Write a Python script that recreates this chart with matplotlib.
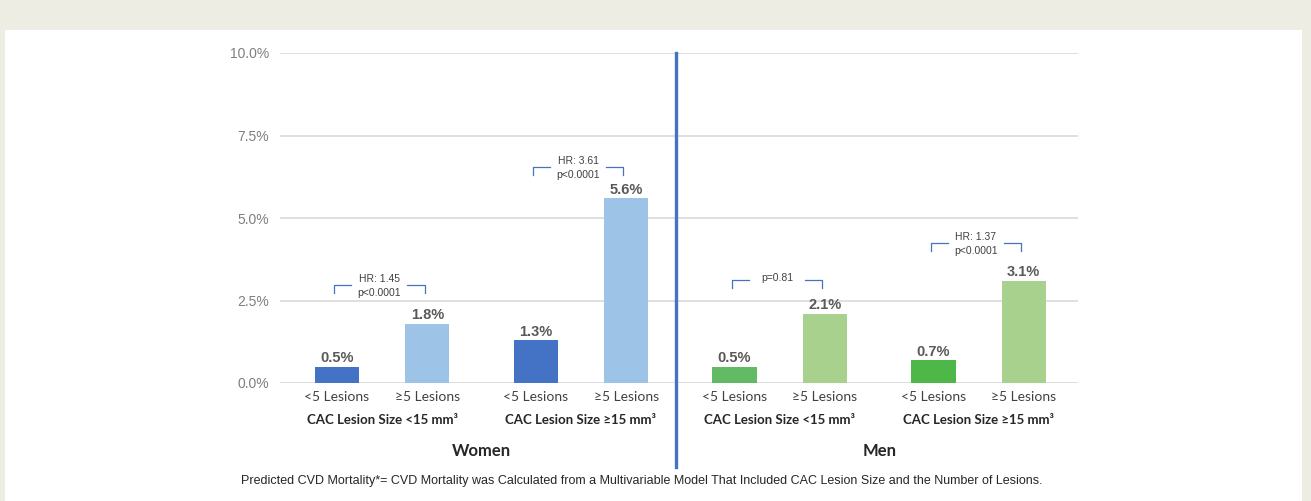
import matplotlib.pyplot as plt
from matplotlib.patches import Rectangle
import matplotlib.transforms as mtransforms

# bar data (predicted CVD mortality, %)
bar_labels = ["<5 Lesions", "\u22655 Lesions"] * 4
values = [0.5, 1.8, 1.3, 5.6, 0.5, 2.1, 0.7, 3.1]
bar_colors = ["#4472C4", "#9DC3E6", "#4472C4", "#9DC3E6",
              "#62BB64", "#A9D18E", "#4DB748", "#A9D18E"]
positions = [0, 1, 2.2, 3.2, 4.4, 5.4, 6.6, 7.6]

size_groups = ["CAC Lesion Size <15 mm\u00b3", "CAC Lesion Size \u226515 mm\u00b3"] * 2
sexes = ["Women", "Men"]

# comparison brackets: (left bar, right bar, top of bracket, text lines)
comparisons = [
    (0, 1, 2.97, ["HR: 1.45", "p<0.0001"]),
    (2, 3, 6.55, ["HR: 3.61", "p<0.0001"]),
    (4, 5, 3.12, ["p=0.81"]),
    (6, 7, 4.24, ["HR: 1.37", "p<0.0001"]),
]

yticks = [0, 2.5, 5.0, 7.5, 10.0]
footnote = ("Predicted CVD Mortality*= CVD Mortality was Calculated from a Multivariable "
            "Model That Included CAC Lesion Size and the Number of Lesions.")

W, H = 1311, 501
fig = plt.figure(figsize=(W / 100, H / 100), dpi=100, facecolor="#EEEDE3")
bg = fig.add_axes([0, 0, 1, 1], zorder=-5)
bg.set_xlim(0, W)
bg.set_ylim(H, 0)
bg.axis("off")
bg.add_patch(Rectangle((5, 30), 1297, 471, facecolor="white", edgecolor="none"))

ax = fig.add_axes([280 / W, (H - 383) / H, 798 / W, 330 / H])
ax.set_facecolor("none")
ax.set_xlim(-0.63, 8.2)
ax.set_ylim(0, 10)

for y in yticks:
    ax.axhline(y, color="#D9D9D9", lw=1.2, zorder=0)

ax.bar(positions, values, width=0.49, color=bar_colors, zorder=2)
for x, v in zip(positions, values):
    ax.annotate(f"{v:.1f}%", (x, v), xytext=(0, 1), textcoords="offset points",
                ha="center", va="bottom", fontsize=10.5, fontweight="bold",
                color="#595959", family="Liberation Sans")

for i, j, top, lines in comparisons:
    xl, xr = positions[i] - 0.03, positions[j] - 0.03
    drop = 0.25
    seg = 0.19
    kw = dict(color="#4472C4", lw=0.9, zorder=3)
    ax.plot([xl, xl, xl + seg], [top - drop, top, top], **kw)
    ax.plot([xr - seg, xr, xr], [top, top, top - drop], **kw)
    xm = (xl + xr) / 2
    if len(lines) == 2:
        ax.text(xm, top + 0.18, lines[0], ha="center", va="center", fontsize=7.5,
                color="#404040", family="Liberation Sans")
        ax.text(xm, top - 0.25, lines[1], ha="center", va="center", fontsize=7.5,
                color="#404040", family="Liberation Sans")
    else:
        ax.text(xm, top + 0.05, lines[0], ha="center", va="center", fontsize=7.5,
                color="#404040", family="Liberation Sans")

# divider between women and men
ax.plot([3.755, 3.755], [10, -2.55], color="#4472C4", lw=2.4, clip_on=False, zorder=4)

ax.set_yticks(yticks)
ax.set_yticklabels([f"{y:.1f}%" for y in yticks], color="#7F7F7F", fontsize=10,
                   family="Liberation Sans")
ax.set_xticks(positions)
ax.set_xticklabels(bar_labels, fontsize=10, color="#404040", family="Lato")
ax.tick_params(length=0, axis="both")
ax.tick_params(axis="y", pad=8)
ax.tick_params(axis="x", pad=6)
for s in ax.spines.values():
    s.set_visible(False)

trans = mtransforms.blended_transform_factory(ax.transData, ax.transAxes)
for k, lab in enumerate(size_groups):
    xc = (positions[2 * k] + positions[2 * k + 1]) / 2
    ax.text(xc, -0.112, lab, transform=trans, ha="center", va="center",
            fontsize=9.5, fontweight="bold", color="#262626", family="Lato")
for k, lab in enumerate(sexes):
    xc = (positions[4 * k] + positions[4 * k + 3]) / 2
    ax.text(xc, -0.206, lab, transform=trans, ha="center", va="center",
            fontsize=12, fontweight="bold", color="#262626", family="Lato")

fig.text(642 / W, (H - 481) / H, footnote, ha="center", va="center", fontsize=9,
         color="#262626", family=["Liberation Sans Narrow", "Liberation Sans"])

fig.savefig("out.png", dpi=100, facecolor=fig.get_facecolor())
